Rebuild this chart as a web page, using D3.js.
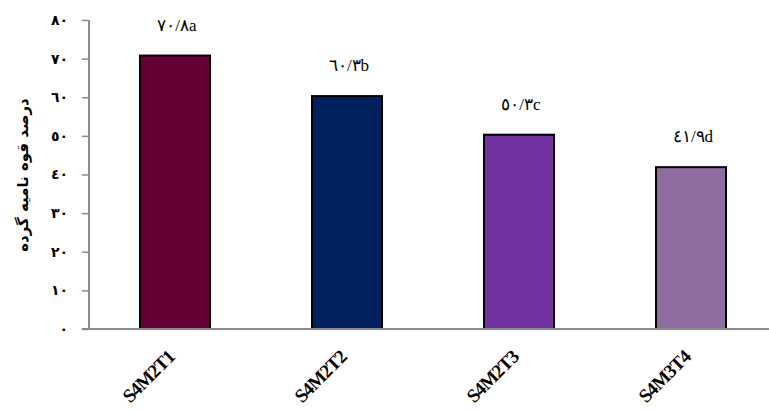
<!DOCTYPE html>
<html><head><meta charset="utf-8">
<script src="https://cdn.jsdelivr.net/npm/d3@7"></script>
<style>body{margin:0;background:#fff}svg{display:block}</style>
</head><body>
<svg id="c" width="769" height="412"></svg>
<script>
const categories = ["S4M2T1","S4M2T2","S4M2T3","S4M3T4"];
const values = [70.8, 60.3, 50.3, 41.9];
const letters = ["a","b","c","d"];
const yTicks = [0,10,20,30,40,50,60,70,80];
const colors = ["#660033","#002060","#7030a0","#8e6c9f"];
const yTitle = "درصد قوه نامیه گرده";

const fa = s => String(s).replace(/[0-9]/g, d => "٠١٢٣٤٥٦٧٨٩"[+d]).replace(".", "/");

const svg = d3.select("#c");
const y = d3.scaleLinear().domain([0,80]).range([329,20]);
const x = d3.scaleBand().domain(categories).range([89,777]).paddingInner(0.593).paddingOuter(0.2965);

// y axis
const ya = svg.append("g").attr("transform","translate(89,0)")
  .call(d3.axisLeft(y).tickValues(yTicks).tickSize(7).tickPadding(14).tickFormat(fa));
ya.select(".domain").attr("stroke","#8c8c8c").attr("stroke-width",2).attr("d","M0,20V329");
ya.selectAll(".tick line").attr("stroke","#8c8c8c").attr("stroke-width",1.5);
ya.selectAll(".tick text").attr("font-family","'DejaVu Sans', sans-serif").attr("font-weight","bold")
  .attr("font-size",14).attr("fill","#000").attr("text-anchor","end");

// bars
svg.selectAll("rect.bar").data(values).enter().append("rect")
  .attr("class","bar")
  .attr("x",(d,i)=>x(categories[i]))
  .attr("width",x.bandwidth())
  .attr("y",d=>y(d))
  .attr("height",d=>y(0)-y(d))
  .attr("fill",(d,i)=>colors[i])
  .attr("stroke","#000").attr("stroke-width",2);

// x axis
const xa = svg.append("g").attr("transform","translate(0,329)")
  .call(d3.axisBottom(x).tickSize(0).tickFormat(""));
xa.select(".domain").attr("stroke","#8c8c8c").attr("stroke-width",2).attr("d","M82,0H769");

// x labels
svg.selectAll("text.xl").data(categories).enter().append("text")
  .attr("class","xl")
  .attr("transform",d=>`translate(${x(d)+x.bandwidth()/2+1},358) rotate(-45)`)
  .attr("text-anchor","end")
  .attr("font-family","'Liberation Serif', serif").attr("font-weight","bold")
  .attr("font-size",19).attr("letter-spacing",-0.8)
  .text(d=>d);

// value labels
svg.selectAll("text.vl").data(values).enter().append("text")
  .attr("class","vl")
  .attr("x",(d,i)=>x(categories[i])+x.bandwidth()/2+2)
  .attr("y",d=>y(d)-25)
  .attr("text-anchor","middle")
  .attr("font-family","'Liberation Serif', serif")
  .attr("font-size",17)
  .text((d,i)=>"\u202A"+fa(d.toFixed(1))+letters[i]+"\u202C");

// y title
svg.append("text")
  .attr("transform","translate(28,175) rotate(-90)")
  .attr("text-anchor","middle")
  .attr("font-family","'DejaVu Sans', sans-serif").attr("font-weight","bold")
  .attr("font-size",15).attr("direction","rtl")
  .text(yTitle);
</script>
</body></html>
